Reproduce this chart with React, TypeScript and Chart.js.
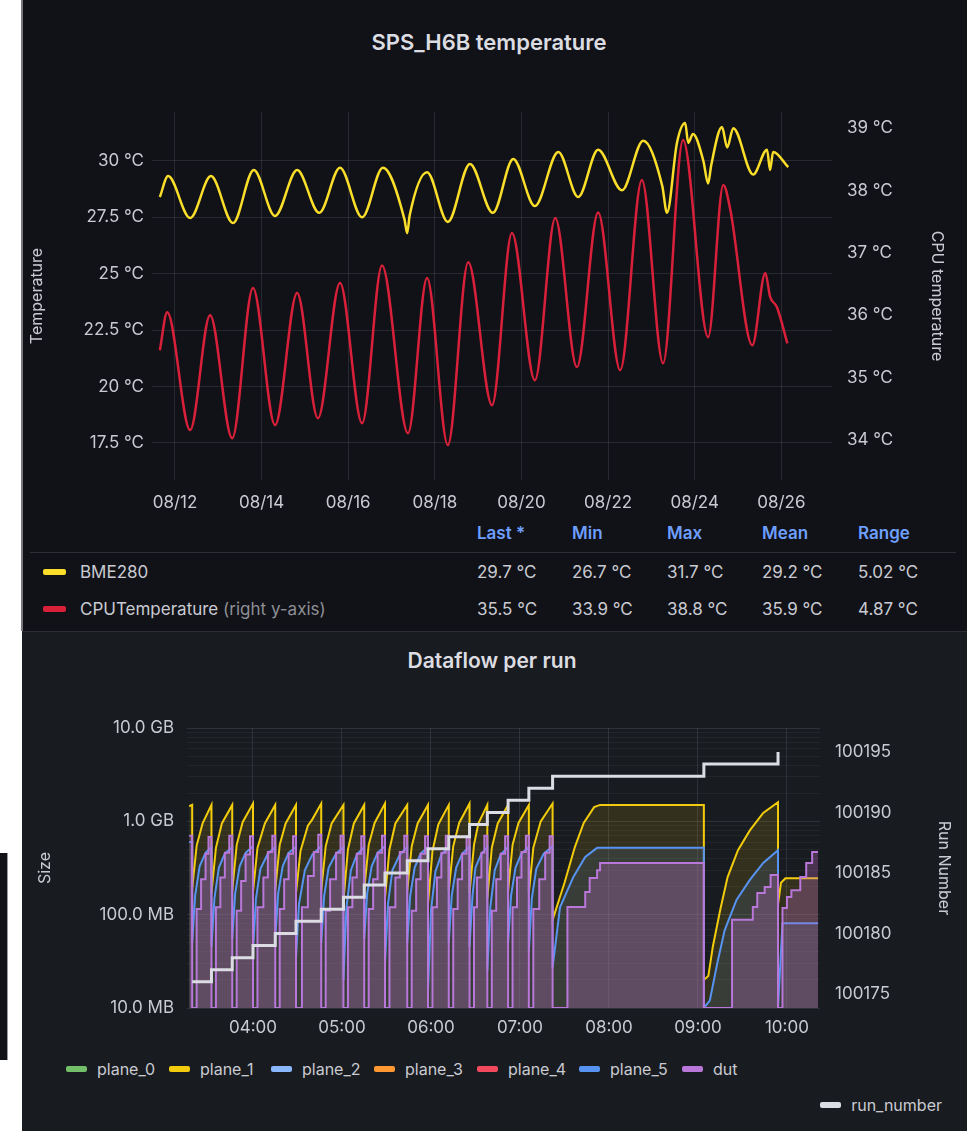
import React, { useEffect, useRef } from 'react';
import { Chart, registerables } from 'chart.js';

Chart.register(...registerables);

const FONT_FAMILY = 'Inter, "Noto Sans", "DejaVu Sans", sans-serif';
const TEXT = '#c9cad2';
const TITLE_TEXT = '#dcdde2';
const GRID = 'rgba(204,204,220,0.13)';
const GRID_MINOR = 'rgba(204,204,220,0.06)';

// ---------------- Top panel: SPS_H6B temperature ----------------
// x = days after 08/12 00:00
const dayTicks = [0, 2, 4, 6, 8, 10, 12, 14];
const dayTickLabels = ['08/12', '08/14', '08/16', '08/18', '08/20', '08/22', '08/24', '08/26'];
const tempLeftTicks = [17.5, 20, 22.5, 25, 27.5, 30];
const tempRightTicks = [34, 35, 36, 37, 38, 39];

const bme280: [number, number][] = [
  [-0.35, 28.4], [-0.16, 29.33], [0.35, 27.47], [0.83, 29.33], [1.34, 27.25], [1.82, 29.6],
  [2.31, 27.56], [2.82, 29.6], [3.33, 27.7], [3.81, 29.7], [4.32, 27.5], [4.8, 29.7],
  [5.3, 27.4], [5.36, 26.8], [5.42, 27.6], [5.82, 29.5], [6.3, 27.3], [6.81, 29.87],
  [7.34, 27.7], [7.81, 30.09], [8.31, 28.0], [8.85, 30.4], [9.31, 28.4], [9.77, 30.5],
  [10.32, 28.7], [10.81, 30.9], [11.25, 28.9], [11.36, 27.7], [11.59, 30.8], [11.78, 31.68],
  [11.85, 30.8], [11.96, 31.2], [12.2, 30.0], [12.31, 29.0], [12.38, 29.8], [12.63, 31.5],
  [12.75, 30.6], [12.89, 31.45], [13.35, 29.4], [13.67, 30.5], [13.74, 29.6], [13.81, 30.4],
  [14.16, 29.73],
];

const cpuTemp: [number, number][] = [
  [-0.35, 35.44], [-0.18, 36.05], [0.35, 34.16], [0.81, 36.0], [1.32, 34.03], [1.8, 36.44],
  [2.31, 34.24], [2.82, 36.36], [3.3, 34.35], [3.81, 36.52], [4.32, 34.27], [4.78, 36.8],
  [5.38, 34.11], [5.82, 36.6], [6.3, 33.92], [6.77, 36.85], [7.32, 34.56], [7.78, 37.32],
  [8.31, 34.96], [8.78, 37.56], [9.28, 35.17], [9.77, 37.65], [10.28, 35.12], [10.78, 38.17],
  [11.27, 35.23], [11.73, 38.81], [12.31, 35.65], [12.66, 38.09], [12.82, 37.7], [13.33, 35.52],
  [13.63, 36.68], [13.74, 36.3], [13.9, 36.13], [14.14, 35.55],
];

const legendColumns = ['Last *', 'Min', 'Max', 'Mean', 'Range'];
const bme280Stats = ['29.7 °C', '26.7 °C', '31.7 °C', '29.2 °C', '5.02 °C'];
const cpuStats = ['35.5 °C', '33.9 °C', '38.8 °C', '35.9 °C', '4.87 °C'];

// ---------------- Bottom panel: Dataflow per run ----------------
// x = minutes after 00:00
const timeTicks = [240, 300, 360, 420, 480, 540, 600];
const timeTickLabels = ['04:00', '05:00', '06:00', '07:00', '08:00', '09:00', '10:00'];
const sizeDecades = [10, 100, 1000, 10000]; // MB
const sizeDecadeLabels = ['10.0 MB', '100.0 MB', '1.0 GB', '10.0 GB'];
const sizeMinorSteps = [2, 3, 4, 5, 6, 7, 8, 9];
const runTicks = [100175, 100180, 100185, 100190, 100195];

// [minute, MB]
const plane1: [number, number][] = [
  [197, 1450], [199, 1500],
  [199, 190], [202, 550], [206, 950], [212, 1500],
  [212, 170], [215, 520], [219, 950], [226, 1500],
  [226, 180], [229, 560], [233, 980], [240, 1550],
  [240, 175], [243, 520], [248, 950], [255, 1500],
  [255, 185], [258, 560], [262, 950], [269, 1500],
  [269, 170], [272, 480], [277, 900], [280, 1050], [286, 1550],
  [286, 180], [289, 540], [293, 950], [301, 1500],
  [301, 140], [304, 500], [308, 950], [315, 1500],
  [315, 185], [318, 560], [322, 960], [329, 1550],
  [329, 150], [332, 500], [336, 950], [344, 1500],
  [344, 180], [347, 540], [351, 950], [358, 1500],
  [358, 130], [361, 480], [365, 930], [372, 1500],
  [372, 180], [375, 540], [379, 960], [386, 1550],
  [386, 170], [389, 560], [392, 950], [398, 1500],
  [398, 150], [401, 520], [405, 950], [412, 1500],
  [412, 180], [415, 560], [419, 960], [426, 1500],
  [426, 170], [429, 520], [434, 1000], [442, 1550],
  [442, 88], [450, 218], [457, 530], [463, 960], [470, 1420], [474, 1500], [544, 1500],
  [544, 20], [547, 22], [550, 45], [555, 112], [560, 253], [567, 490], [575, 800], [584, 1230], [594, 1600],
  [594, 130], [596, 220], [599, 245], [621, 245],
];

const plane5: [number, number][] = [
  [197, 600], [199, 600],
  [199, 50], [201, 160], [204, 330], [208, 460], [212, 530],
  [212, 45], [214, 150], [217, 320], [221, 450], [226, 530],
  [226, 55], [228, 170], [231, 330], [235, 460], [240, 540],
  [240, 40], [242, 150], [245, 310], [250, 450], [255, 530],
  [255, 55], [257, 170], [260, 330], [264, 460], [269, 530],
  [269, 35], [271, 130], [275, 300], [280, 440], [286, 540],
  [286, 50], [288, 160], [291, 320], [296, 450], [301, 530],
  [301, 20], [303, 120], [306, 300], [310, 440], [315, 530],
  [315, 55], [317, 170], [320, 330], [324, 460], [329, 540],
  [329, 30], [331, 130], [334, 300], [339, 440], [344, 530],
  [344, 50], [346, 160], [349, 320], [353, 450], [358, 530],
  [358, 15], [360, 110], [363, 290], [367, 440], [372, 530],
  [372, 50], [374, 160], [377, 320], [381, 450], [386, 540],
  [386, 45], [388, 160], [390, 320], [394, 450], [398, 530],
  [398, 25], [400, 120], [403, 300], [407, 440], [412, 530],
  [412, 50], [414, 160], [417, 320], [421, 450], [426, 530],
  [426, 40], [428, 150], [431, 310], [436, 450], [442, 540],
  [442, 27], [447, 120], [456, 254], [464, 415], [472, 520], [544, 520],
  [544, 10], [548, 12], [553, 30], [558, 68], [566, 144], [575, 236], [584, 358], [594, 490],
  [594, 10], [597, 81], [621, 81],
];

const dut: [number, number][] = [
  [197, 700], [199, 10], [202, 115], [205, 240], [208, 450], [210, 680],
  [212, 10], [215, 120], [218, 250], [221, 460], [224, 700],
  [226, 10], [229, 110], [232, 230], [235, 440], [238, 690],
  [240, 10], [243, 120], [247, 250], [250, 470], [253, 700],
  [255, 10], [258, 115], [261, 240], [264, 450], [267, 690],
  [269, 10], [273, 120], [277, 260], [281, 470], [284, 720],
  [286, 10], [289, 110], [292, 240], [296, 460], [299, 700],
  [301, 10], [304, 120], [307, 250], [310, 450], [313, 690],
  [315, 10], [318, 115], [321, 240], [324, 460], [327, 700],
  [329, 10], [332, 120], [336, 250], [339, 470], [342, 700],
  [344, 10], [347, 110], [350, 240], [353, 450], [356, 690],
  [358, 10], [361, 120], [364, 250], [367, 460], [370, 700],
  [372, 10], [375, 115], [378, 240], [381, 450], [384, 690],
  [386, 10], [389, 120], [391, 250], [394, 460], [396, 700],
  [398, 10], [401, 110], [404, 240], [407, 450], [410, 690],
  [412, 10], [415, 120], [418, 250], [421, 470], [424, 700],
  [426, 10], [429, 115], [433, 240], [437, 460], [440, 690],
  [442, 10], [452, 121], [464, 175], [467, 247], [472, 300], [474, 358],
  [544, 10], [563, 88], [577, 121], [580, 171], [585, 198], [589, 266],
  [594, 10], [597, 118], [600, 155], [603, 183], [609, 254], [613, 358], [617, 470], [621, 470],
];

const runStartMinutes = [199, 212, 226, 240, 255, 269, 286, 301, 315, 329, 344, 358, 372, 386, 398, 412, 426, 442, 544, 594];
const runNumbers = [100176, 100177, 100178, 100179, 100180, 100181, 100182, 100183, 100184, 100185, 100186, 100187, 100188, 100189, 100190, 100191, 100192, 100193, 100194, 100195];

const bottomSeries = [
  { name: 'plane_0', color: '#73BF69' },
  { name: 'plane_1', color: '#F2CC0C' },
  { name: 'plane_2', color: '#8AB8FF' },
  { name: 'plane_3', color: '#FF9830' },
  { name: 'plane_4', color: '#F2495C' },
  { name: 'plane_5', color: '#5794F2' },
  { name: 'dut', color: '#B877D9' },
];

const toPts = (arr: [number, number][]) => arr.map(([x, y]) => ({ x, y }));
const font = (size: number, weight: any = 'normal') => ({ family: FONT_FAMILY, size, weight });

function TopChart() {
  const ref = useRef<HTMLCanvasElement>(null);
  useEffect(() => {
    const chart = new Chart(ref.current as HTMLCanvasElement, {
      type: 'line',
      data: {
        datasets: [
          {
            label: 'BME280',
            data: toPts(bme280),
            borderColor: '#FADE2A',
            borderWidth: 2.5,
            pointRadius: 0,
            cubicInterpolationMode: 'monotone',
            yAxisID: 'yL',
          } as any,
          {
            label: 'CPUTemperature',
            data: toPts(cpuTemp),
            borderColor: '#D8203A',
            borderWidth: 2.5,
            pointRadius: 0,
            cubicInterpolationMode: 'monotone',
            yAxisID: 'yR',
          } as any,
        ],
      },
      options: {
        responsive: false,
        animation: false,
        events: [],
        layout: { padding: { top: 112, left: 0, right: 0, bottom: 0 } },
        plugins: { legend: { display: false }, tooltip: { enabled: false }, title: { display: false } },
        scales: {
          x: {
            type: 'linear',
            min: -0.531,
            max: 15.17,
            afterBuildTicks: (s: any) => { s.ticks = dayTicks.map((v) => ({ value: v })); },
            afterFit: (s: any) => { s.height = 40; },
            ticks: {
              color: TEXT, font: font(17), padding: 13, maxRotation: 0, autoSkip: false,
              callback: (v: any) => dayTickLabels[dayTicks.indexOf(Number(v))] ?? '',
            },
            grid: { color: GRID, drawTicks: false },
            border: { display: false },
          },
          yL: {
            type: 'linear',
            position: 'left',
            min: 15.86,
            max: 32.17,
            afterBuildTicks: (s: any) => { s.ticks = tempLeftTicks.map((v) => ({ value: v })); },
            afterFit: (s: any) => { s.width = 130; },
            ticks: { color: TEXT, font: font(17), padding: 8, callback: (v: any) => `${v} °C` },
            grid: { color: GRID, drawTicks: false },
            border: { display: false },
            title: { display: true, text: 'Temperature', color: TEXT, font: font(16), padding: { top: 6, bottom: 0 } },
          },
          yR: {
            type: 'linear',
            position: 'right',
            min: 33.36,
            max: 39.26,
            afterBuildTicks: (s: any) => { s.ticks = tempRightTicks.map((v) => ({ value: v })); },
            afterFit: (s: any) => { s.width = 135; },
            ticks: { color: TEXT, font: font(17), padding: 15, callback: (v: any) => `${v} °C` },
            grid: { drawOnChartArea: false, drawTicks: false },
            border: { display: false },
            title: { display: true, text: 'CPU temperature', color: TEXT, font: font(16), padding: { top: 21, bottom: 0 } },
          },
        },
      } as any,
    });
    return () => chart.destroy();
  }, []);
  return <canvas ref={ref} width={945} height={520} style={{ position: 'absolute', left: 22, top: 0, width: 945, height: 520 }} />;
}

function BottomChart() {
  const ref = useRef<HTMLCanvasElement>(null);
  useEffect(() => {
    const seriesData: Record<string, [number, number][]> = {
      plane_0: [], plane_1: plane1, plane_2: [], plane_3: [], plane_4: [], plane_5: plane5, dut,
    };
    const fills: Record<string, string | false> = {
      plane_1: 'rgba(242,204,12,0.13)',
      plane_5: 'rgba(87,148,242,0.13)',
      dut: 'rgba(190,110,200,0.30)',
    };
    const datasets: any[] = bottomSeries.map((s, i) => ({
      label: s.name,
      data: toPts(seriesData[s.name]),
      borderColor: s.color,
      backgroundColor: fills[s.name] || 'transparent',
      fill: fills[s.name] ? 'start' : false,
      borderWidth: 2,
      pointRadius: 0,
      tension: 0,
      stepped: s.name === 'dut' ? true : false,
      yAxisID: 'y',
      order: 10 - i,
    }));
    datasets.push({
      label: 'run_number',
      data: runStartMinutes.map((x, i) => ({ x, y: runNumbers[i] })),
      borderColor: '#DCDCE4',
      borderWidth: 3,
      pointRadius: 0,
      stepped: true,
      fill: false,
      yAxisID: 'yR',
      order: 0,
    });
    const isDecade = (v: number) => sizeDecades.indexOf(v) >= 0;
    const chart = new Chart(ref.current as HTMLCanvasElement, {
      type: 'line',
      data: { datasets },
      options: {
        responsive: false,
        animation: false,
        events: [],
        layout: { padding: { top: 96, left: 0, right: 0, bottom: 0 } },
        plugins: { legend: { display: false }, tooltip: { enabled: false }, title: { display: false } },
        scales: {
          x: {
            type: 'linear',
            min: 195.5,
            max: 622.3,
            afterBuildTicks: (s: any) => { s.ticks = timeTicks.map((v) => ({ value: v })); },
            afterFit: (s: any) => { s.height = 40; },
            ticks: {
              color: TEXT, font: font(17), padding: 10, maxRotation: 0, autoSkip: false,
              callback: (v: any) => timeTickLabels[timeTicks.indexOf(Number(v))] ?? '',
            },
            grid: { color: GRID, drawTicks: false },
            border: { display: false },
          },
          y: {
            type: 'logarithmic',
            position: 'left',
            min: 10,
            max: 10000,
            afterBuildTicks: (s: any) => {
              const t: any[] = [];
              sizeDecades.forEach((d, i) => {
                t.push({ value: d });
                if (i < sizeDecades.length - 1) sizeMinorSteps.forEach((m) => t.push({ value: d * m }));
              });
              s.ticks = t;
            },
            afterFit: (s: any) => { s.width = 165; },
            ticks: {
              color: TEXT, font: font(17), padding: 13, autoSkip: false,
              callback: (v: any) => {
                const i = sizeDecades.indexOf(Number(v));
                return i >= 0 ? sizeDecadeLabels[i] : '';
              },
            },
            grid: {
              drawTicks: false,
              color: (ctx: any) => (ctx.tick && isDecade(ctx.tick.value) ? GRID : GRID_MINOR),
            },
            border: { display: false },
            title: { display: true, text: 'Size', color: TEXT, font: font(16), padding: { top: 14, bottom: 0 } },
          },
          yR: {
            type: 'linear',
            position: 'right',
            min: 100173.84,
            max: 100196.98,
            afterBuildTicks: (s: any) => { s.ticks = runTicks.map((v) => ({ value: v })); },
            afterFit: (s: any) => { s.width = 147; },
            ticks: { color: TEXT, font: font(17), padding: 15, callback: (v: any) => String(v) },
            grid: { drawOnChartArea: false, drawTicks: false },
            border: { display: false },
            title: { display: true, text: 'Run Number', color: TEXT, font: font(16), padding: { top: 14, bottom: 0 } },
          },
        },
      } as any,
    });
    return () => chart.destroy();
  }, []);
  return <canvas ref={ref} width={945} height={416} style={{ position: 'absolute', left: 22, top: 632, width: 945, height: 416 }} />;
}

const abs = (left: number, top: number, extra: any = {}): React.CSSProperties => ({
  position: 'absolute', left, top, whiteSpace: 'nowrap', fontFamily: FONT_FAMILY, ...extra,
});

const colLefts = [477, 572, 667, 762, 858];
const bottomLegendLefts = [66, 169, 271, 374, 477, 579, 682];

export default function App() {
  return (
    <div style={{ position: 'absolute', left: 0, top: 0, width: 974, height: 1131, background: '#ffffff', overflow: 'hidden' }}>
      {/* top panel */}
      <div style={{ position: 'absolute', left: 22, top: 0, width: 945, height: 631, background: '#111217' }} />
      <div style={{ position: 'absolute', left: 21, top: 0, width: 2, height: 631, background: '#77787d' }} />
      {/* bottom panel */}
      <div style={{ position: 'absolute', left: 22, top: 631, width: 945, height: 500, background: '#181b1f', borderTop: '1px solid #2b2e35' }} />
      {/* left-edge artifact */}
      <div style={{ position: 'absolute', left: 0, top: 853, width: 7, height: 207, background: '#111217', borderRight: '1px solid #9a9a9e' }} />

      <div style={abs(0, 28, { width: 978, textAlign: 'center', color: TITLE_TEXT, fontSize: 22, fontWeight: 600, lineHeight: '28px' })}>SPS_H6B temperature</div>
      <TopChart />

      {/* top legend table */}
      {legendColumns.map((c, i) => (
        <div key={c} style={abs(colLefts[i], 522, { color: '#6E9FFF', fontSize: 17, fontWeight: 600, lineHeight: '22px' })}>{c}</div>
      ))}
      <div style={{ position: 'absolute', left: 30, top: 552, width: 926, height: 1, background: '#2c2f36' }} />
      <div style={{ position: 'absolute', left: 43, top: 569, width: 23, height: 6, borderRadius: 2, background: '#FADE2A' }} />
      <div style={abs(80, 561, { color: TEXT, fontSize: 17, lineHeight: '22px' })}>BME280</div>
      {bme280Stats.map((v, i) => (
        <div key={'b' + i} style={abs(colLefts[i], 561, { color: TEXT, fontSize: 17, lineHeight: '22px' })}>{v}</div>
      ))}
      <div style={{ position: 'absolute', left: 43, top: 606, width: 23, height: 6, borderRadius: 2, background: '#D8203A' }} />
      <div style={abs(80, 598, { color: TEXT, fontSize: 17, lineHeight: '22px' })}>
        CPUTemperature <span style={{ color: '#8e8f96' }}>(right y-axis)</span>
      </div>
      {cpuStats.map((v, i) => (
        <div key={'c' + i} style={abs(colLefts[i], 598, { color: TEXT, fontSize: 17, lineHeight: '22px' })}>{v}</div>
      ))}

      <div style={abs(0, 647, { width: 984, textAlign: 'center', color: TITLE_TEXT, fontSize: 21, fontWeight: 600, lineHeight: '28px' })}>Dataflow per run</div>
      <BottomChart />

      {/* bottom legend */}
      {bottomSeries.map((s, i) => (
        <div key={s.name} style={abs(bottomLegendLefts[i], 1058, { display: 'flex', alignItems: 'center', color: TEXT, fontSize: 16, lineHeight: '22px' })}>
          <div style={{ width: 21, height: 6, borderRadius: 2, background: s.color, marginRight: 10 }} />
          <span>{s.name}</span>
        </div>
      ))}
      <div style={abs(0, 1094, { width: 942, display: 'flex', justifyContent: 'flex-end', alignItems: 'center', color: TEXT, fontSize: 16, lineHeight: '22px' })}>
        <div style={{ width: 21, height: 6, borderRadius: 2, background: '#DCDCE4', marginRight: 10 }} />
        <span>run_number</span>
      </div>
    </div>
  );
}
